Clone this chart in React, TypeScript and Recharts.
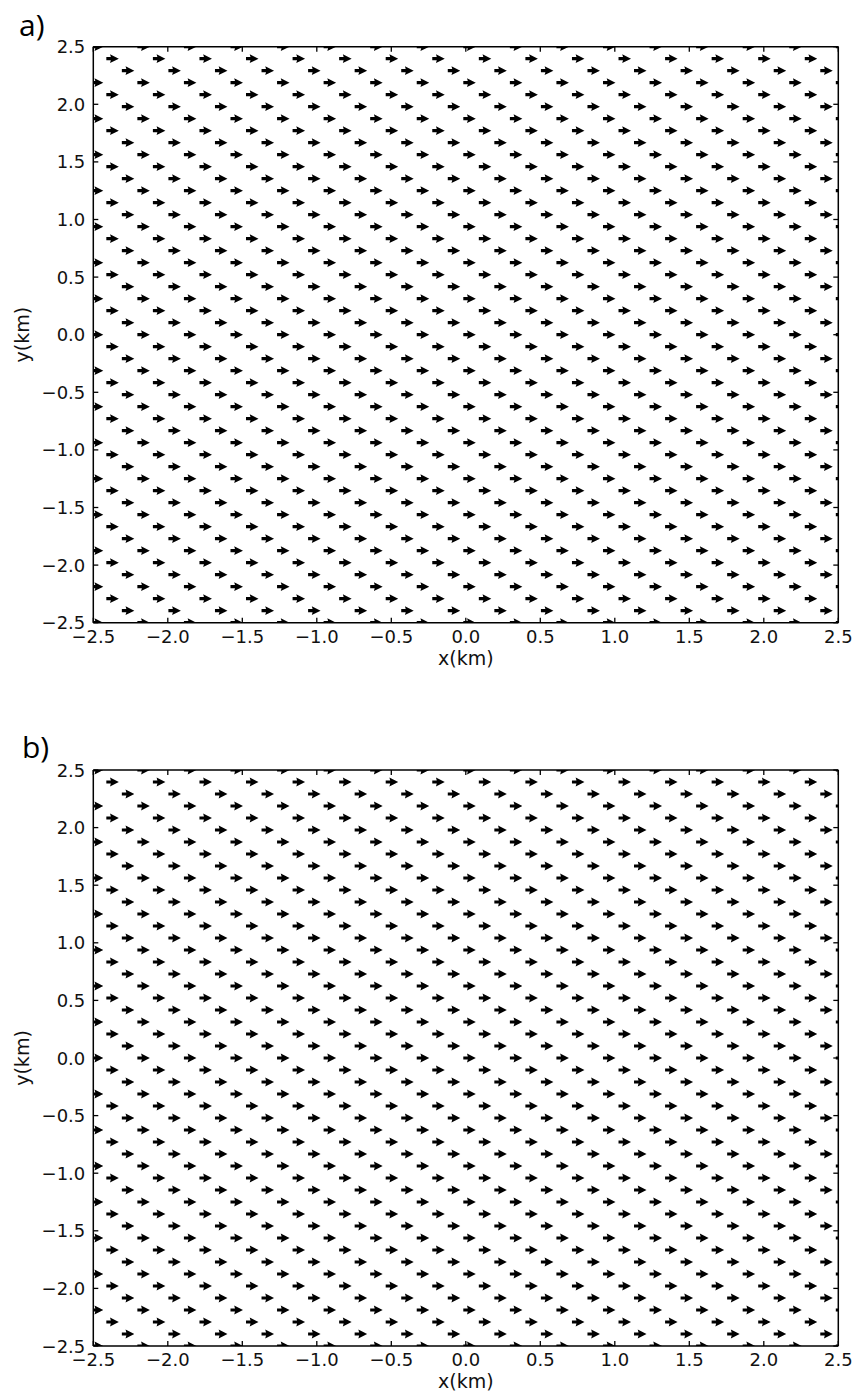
import React from 'react';
import { ScatterChart, Scatter, XAxis, YAxis, Label } from 'recharts';

// Axis ticks (km)
const axisTicks = [-2.5, -2.0, -1.5, -1.0, -0.5, 0.0, 0.5, 1.0, 1.5, 2.0, 2.5];

// Rows of arrows (y, km), top to bottom
const rowY = [
  2.5, 2.3958, 2.2917, 2.1875, 2.0833, 1.9792, 1.875, 1.7708, 1.6667, 1.5625,
  1.4583, 1.3542, 1.25, 1.1458, 1.0417, 0.9375, 0.8333, 0.7292, 0.625, 0.5208,
  0.4167, 0.3125, 0.2083, 0.1042, 0, -0.1042, -0.2083, -0.3125, -0.4167, -0.5208,
  -0.625, -0.7292, -0.8333, -0.9375, -1.0417, -1.1458, -1.25, -1.3542, -1.4583, -1.5625,
  -1.6667, -1.7708, -1.875, -1.9792, -2.0833, -2.1875, -2.2917, -2.3958, -2.5,
];

// Arrow x positions (km) for the three staggered row phases
const colXPhase0 = [-2.5, -2.1875, -1.875, -1.5625, -1.25, -0.9375, -0.625, -0.3125, 0, 0.3125, 0.625, 0.9375, 1.25, 1.5625, 1.875, 2.1875, 2.5];
const colXPhase1 = [-2.3958, -2.0833, -1.7708, -1.4583, -1.1458, -0.8333, -0.5208, -0.2083, 0.1042, 0.4167, 0.7292, 1.0417, 1.3542, 1.6667, 1.9792, 2.2917];
const colXPhase2 = [-2.2917, -1.9792, -1.6667, -1.3542, -1.0417, -0.7292, -0.4167, -0.1042, 0.2083, 0.5208, 0.8333, 1.1458, 1.4583, 1.7708, 2.0833, 2.3958];

// Panels
const panelLabels = ['a)', 'b)'];
const arrowAngleDeg = [0, 0]; // arrow direction (degrees from +x) per panel

const FONT = "'DejaVu Sans', sans-serif";

function buildLattice() {
  const phases = [colXPhase0, colXPhase1, colXPhase2];
  const pts: { x: number; y: number }[] = [];
  rowY.forEach((y, k) => {
    phases[k % 3].forEach((x) => pts.push({ x, y }));
  });
  return pts;
}

const fmt = (v: number) => (v < 0 ? '\u2212' + Math.abs(v).toFixed(1) : v.toFixed(1));

const BottomTick = (p: any) => (
  <g>
    <line x1={p.x} y1={p.y} x2={p.x} y2={p.y - 5} stroke="#000" strokeWidth={1.3} />
    <text x={p.x} y={p.y + 20} textAnchor="middle" fontSize={18} fontFamily={FONT} fill="#111">
      {fmt(p.payload.value)}
    </text>
  </g>
);
const TopTick = (p: any) => (
  <line x1={p.x} y1={p.y} x2={p.x} y2={p.y + 5} stroke="#000" strokeWidth={1.3} />
);
const LeftTick = (p: any) => (
  <g>
    <line x1={p.x} y1={p.y} x2={p.x + 5} y2={p.y} stroke="#000" strokeWidth={1.3} />
    <text x={p.x - 8} y={p.y + 6.5} textAnchor="end" fontSize={18} fontFamily={FONT} fill="#111">
      {fmt(p.payload.value)}
    </text>
  </g>
);
const RightTick = (p: any) => (
  <line x1={p.x} y1={p.y} x2={p.x - 5} y2={p.y} stroke="#000" strokeWidth={1.3} />
);

const makeArrow = (angle: number) => (props: any) => {
  const { cx, cy } = props;
  if (cx == null || cy == null) return <g />;
  return (
    <polygon
      points="-2.5,-1.6 2,-1.6 1.2,-4.4 10,0 1.2,4.4 2,1.6 -2.5,1.6"
      transform={`translate(${cx},${cy}) rotate(${-angle})`}
      fill="#000"
    />
  );
};

const axisLine = { stroke: '#000', strokeWidth: 1.5 };
const PLOT_H = 576;
const PLOT_LEFT = 93.3;
const PLOT_RIGHT = 838.3;

function Panel({ top, height, plotTop, idx }: { top: number; height: number; plotTop: number; idx: number }) {
  const data = buildLattice();
  return (
    <div style={{ position: 'absolute', left: 0, top, width: 852, height }}>
      <ScatterChart
        width={852}
        height={height}
        margin={{
          top: plotTop - 1,
          right: 852 - PLOT_RIGHT - 1,
          bottom: height - plotTop - PLOT_H - 1,
          left: PLOT_LEFT - 1,
        }}
      >
        <XAxis
          xAxisId="b"
          type="number"
          dataKey="x"
          domain={[-2.5, 2.5]}
          ticks={axisTicks}
          interval={0}
          allowDataOverflow
          height={1}
          tickSize={0}
          tickMargin={0}
          tickLine={false}
          axisLine={axisLine}
          tick={BottomTick}
        >
          <Label value="x(km)" position="bottom" offset={28} style={{ fontSize: 19, fill: '#111', fontFamily: FONT }} />
        </XAxis>
        <XAxis
          xAxisId="t"
          orientation="top"
          type="number"
          dataKey="x"
          domain={[-2.5, 2.5]}
          ticks={axisTicks}
          interval={0}
          allowDataOverflow
          height={1}
          tickSize={0}
          tickMargin={0}
          tickLine={false}
          axisLine={axisLine}
          tick={TopTick}
        />
        <YAxis
          yAxisId="l"
          type="number"
          dataKey="y"
          domain={[-2.5, 2.5]}
          ticks={axisTicks}
          interval={0}
          allowDataOverflow
          width={1}
          tickSize={0}
          tickMargin={0}
          tickLine={false}
          axisLine={axisLine}
          tick={LeftTick}
        >
          <Label
            value="y(km)"
            angle={-90}
            position="left"
            offset={70}
            style={{ fontSize: 19, fill: '#111', fontFamily: FONT, textAnchor: 'middle' }}
          />
        </YAxis>
        <YAxis
          yAxisId="r"
          orientation="right"
          type="number"
          dataKey="y"
          domain={[-2.5, 2.5]}
          ticks={axisTicks}
          interval={0}
          allowDataOverflow
          width={1}
          tickSize={0}
          tickMargin={0}
          tickLine={false}
          axisLine={axisLine}
          tick={RightTick}
        />
        <Scatter
          xAxisId="b"
          yAxisId="l"
          data={data}
          shape={makeArrow(arrowAngleDeg[idx])}
          isAnimationActive={false}
        />
      </ScatterChart>
    </div>
  );
}

export default function App() {
  return (
    <div style={{ position: 'absolute', left: 0, top: 0, width: 852, height: 1391, background: '#fff' }}>
      <Panel top={0} height={690} plotTop={46.7} idx={0} />
      <Panel top={700} height={691} plotTop={70} idx={1} />
      <div
        style={{ position: 'absolute', left: 19, top: 10, fontFamily: "'Open Sans', sans-serif", fontSize: 30, lineHeight: '30px', color: '#000' }}
      >
        {panelLabels[0]}
      </div>
      <div
        style={{ position: 'absolute', left: 22, top: 732, fontFamily: "'Open Sans', sans-serif", fontSize: 30, lineHeight: '30px', color: '#000' }}
      >
        {panelLabels[1]}
      </div>
    </div>
  );
}
